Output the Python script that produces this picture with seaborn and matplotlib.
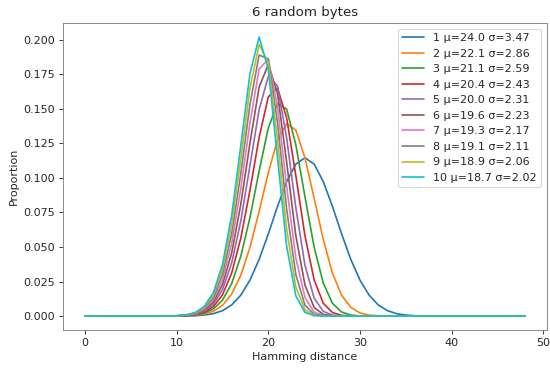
import matplotlib
matplotlib.use("Agg")
import matplotlib.pyplot as plt
import seaborn as sns
import pandas as pd

distance = list(range(49))

s1 = [0, 0, 0, 0, 0, 0, 0, 0, 0, 0,
      0.0000, 0.0001, 0.0002, 0.0007, 0.0017, 0.0039, 0.0080, 0.0151, 0.0260, 0.0410,
      0.0595, 0.0793, 0.0973, 0.1100, 0.1146, 0.1100, 0.0973, 0.0793, 0.0595, 0.0410,
      0.0260, 0.0151, 0.0080, 0.0039, 0.0017, 0.0007, 0.0002, 0.0001, 0, 0,
      0, 0, 0, 0, 0, 0, 0, 0, 0]
s2 = [0, 0, 0, 0, 0, 0, 0, 0, 0, 0,
      0.0000, 0.0002, 0.0005, 0.0014, 0.0034, 0.0077, 0.0159, 0.0295, 0.0497, 0.0758,
      0.1039, 0.1275, 0.1393, 0.1347, 0.1145, 0.0853, 0.0553, 0.0310, 0.0150, 0.0063,
      0.0022, 0.0007, 0.0002, 0, 0, 0, 0, 0, 0, 0,
      0, 0, 0, 0, 0, 0, 0, 0, 0]
s3 = [0, 0, 0, 0, 0, 0, 0, 0, 0, 0,
      0.0001, 0.0002, 0.0007, 0.0021, 0.0051, 0.0115, 0.0235, 0.0433, 0.0714, 0.1050,
      0.1362, 0.1539, 0.1498, 0.1240, 0.0863, 0.0499, 0.0238, 0.0092, 0.0029, 0.0007,
      0.0001, 0, 0, 0, 0, 0, 0, 0, 0, 0,
      0, 0, 0, 0, 0, 0, 0, 0, 0]
s4 = [0, 0, 0, 0, 0, 0, 0, 0, 0, 0,
      0.0001, 0.0003, 0.0010, 0.0027, 0.0068, 0.0153, 0.0310, 0.0564, 0.0911, 0.1294,
      0.1587, 0.1653, 0.1435, 0.1018, 0.0580, 0.0262, 0.0092, 0.0025, 0.0005, 0.0001,
      0, 0, 0, 0, 0, 0, 0, 0, 0, 0,
      0, 0, 0, 0, 0, 0, 0, 0, 0]
s5 = [0, 0, 0, 0, 0, 0, 0, 0, 0, 0,
      0.0001, 0.0004, 0.0012, 0.0034, 0.0085, 0.0191, 0.0384, 0.0689, 0.1091, 0.1495,
      0.1735, 0.1666, 0.1290, 0.0785, 0.0367, 0.0129, 0.0034, 0.0006, 0.0001, 0,
      0, 0, 0, 0, 0, 0, 0, 0, 0, 0,
      0, 0, 0, 0, 0, 0, 0, 0, 0]
s6 = [0, 0, 0, 0, 0, 0, 0, 0, 0, 0,
      0.0001, 0.0005, 0.0015, 0.0041, 0.0102, 0.0228, 0.0456, 0.0809, 0.1253, 0.1658,
      0.1822, 0.1613, 0.1115, 0.0583, 0.0224, 0.0062, 0.0012, 0.0002, 0, 0,
      0, 0, 0, 0, 0, 0, 0, 0, 0, 0,
      0, 0, 0, 0, 0, 0, 0, 0, 0]
s7 = [0, 0, 0, 0, 0, 0, 0, 0, 0, 0,
      0.0002, 0.0006, 0.0017, 0.0048, 0.0119, 0.0264, 0.0526, 0.0923, 0.1400, 0.1789,
      0.1860, 0.1519, 0.0938, 0.0422, 0.0134, 0.0029, 0.0004, 0, 0, 0,
      0, 0, 0, 0, 0, 0, 0, 0, 0, 0,
      0, 0, 0, 0, 0, 0, 0, 0, 0]
s8 = [0, 0, 0, 0, 0, 0, 0, 0, 0, 0,
      0.0002, 0.0006, 0.0020, 0.0055, 0.0135, 0.0301, 0.0595, 0.1031, 0.1533, 0.1890,
      0.1862, 0.1403, 0.0775, 0.0300, 0.0078, 0.0013, 0.0001, 0, 0, 0,
      0, 0, 0, 0, 0, 0, 0, 0, 0, 0,
      0, 0, 0, 0, 0, 0, 0, 0, 0]
s9 = [0, 0, 0, 0, 0, 0, 0, 0, 0, 0,
      0.0002, 0.0007, 0.0022, 0.0061, 0.0152, 0.0337, 0.0662, 0.1135, 0.1651, 0.1967,
      0.1834, 0.1277, 0.0630, 0.0210, 0.0045, 0.0006, 0, 0, 0, 0,
      0, 0, 0, 0, 0, 0, 0, 0, 0, 0,
      0, 0, 0, 0, 0, 0, 0, 0, 0]
s10 = [0, 0, 0, 0, 0, 0, 0, 0, 0, 0,
       0.0002, 0.0008, 0.0025, 0.0068, 0.0168, 0.0372, 0.0728, 0.1233, 0.1757, 0.2021,
       0.1786, 0.1148, 0.0507, 0.0146, 0.0026, 0.0003, 0, 0, 0, 0,
       0, 0, 0, 0, 0, 0, 0, 0, 0, 0,
       0, 0, 0, 0, 0, 0, 0, 0, 0]

series = [s1, s2, s3, s4, s5, s6, s7, s8, s9, s10]
labels = ["1 μ=24.0 σ=3.47", "2 μ=22.1 σ=2.86", "3 μ=21.1 σ=2.59",
          "4 μ=20.4 σ=2.43", "5 μ=20.0 σ=2.31", "6 μ=19.6 σ=2.23",
          "7 μ=19.3 σ=2.17", "8 μ=19.1 σ=2.11", "9 μ=18.9 σ=2.06",
          "10 μ=18.7 σ=2.02"]

rows = []
for lab, vals in zip(labels, series):
    for d, v in zip(distance, vals):
        rows.append({"Hamming distance": d, "Proportion": v, "series": lab})
df = pd.DataFrame(rows)

sns.set_style("ticks", {"axes.edgecolor": "0.5"})
plt.rcParams["font.family"] = ["DejaVu Sans"]

fig = plt.figure(figsize=(6.875, 4.6125), dpi=80)
ax = fig.add_axes([0.1145, 0.1057, 0.88, 0.832])
ax.spines[["top", "right"]].set_visible(True)

sns.lineplot(data=df, x="Hamming distance", y="Proportion", hue="series",
             hue_order=labels, palette=sns.color_palette("tab10", 10),
             linewidth=1.5, ax=ax)

ax.set_title("6 random bytes", fontsize=12)
ax.set_xticks([0, 10, 20, 30, 40, 50])
ax.set_yticks([0.0, 0.025, 0.05, 0.075, 0.1, 0.125, 0.15, 0.175, 0.2])
ax.yaxis.set_major_formatter(matplotlib.ticker.FormatStrFormatter("%.3f"))
ax.legend(loc="upper right", fontsize=10, title=None)

fig.savefig("out.png", dpi=80)
